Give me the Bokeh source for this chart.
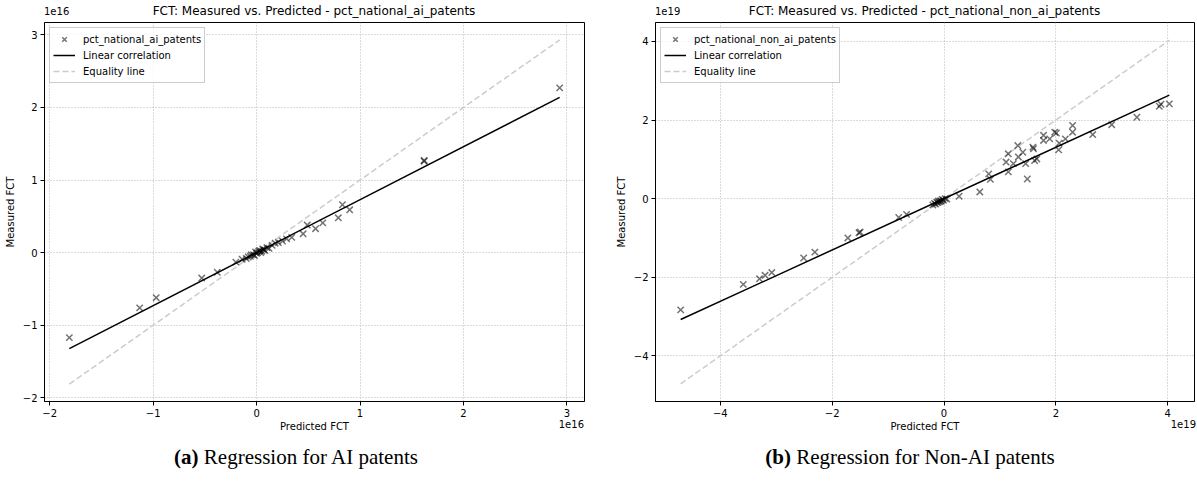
from bokeh.plotting import figure
from bokeh.models import Range1d, FixedTicker, Legend, LegendItem, Div
from bokeh.layouts import row, column
from bokeh.embed import file_html
from bokeh.resources import INLINE

# ---------------- data (values in units of 1e16 / 1e19) ----------------
ai_pred = [-1.81, -1.13, -0.97, -0.53, -0.38, -0.20, -0.14, -0.10, -0.08, -0.06, -0.05,
           -0.03, -0.02, -0.01, 0.00, 0.01, 0.02, 0.03, 0.04, 0.05, 0.06, 0.07, 0.08,
           0.10, 0.12, 0.15, 0.18, 0.21, 0.25, 0.29, 0.34, 0.45, 0.49, 0.57, 0.64, 0.79,
           0.83, 0.90, 1.62, 1.62, 2.93]
ai_meas = [-1.17, -0.76, -0.62, -0.35, -0.27, -0.13, -0.09, -0.08, -0.06, -0.05, -0.03,
           -0.03, -0.04, 0.01, -0.01, 0.00, 0.02, 0.03, 0.00, 0.02, 0.05, 0.04, 0.03,
           0.07, 0.06, 0.10, 0.13, 0.14, 0.16, 0.19, 0.21, 0.26, 0.38, 0.33, 0.41, 0.48,
           0.66, 0.59, 1.26, 1.27, 2.27]
ai_fit_slope = 0.73
ai_fit_intercept = 0.0

non_pred = [-4.71, -3.59, -3.30, -3.20, -3.08, -2.51, -2.31, -1.72, -1.52, -1.50, -0.81,
            -0.67, -0.20, -0.17, -0.15, -0.13, -0.11, -0.10, -0.08, -0.06, -0.05, -0.03,
            -0.01, 0.02, 0.05, 0.27, 0.64, 0.80, 0.83, 1.11, 1.15, 1.15, 1.24, 1.32, 1.33,
            1.41, 1.46, 1.49, 1.59, 1.60, 1.62, 1.66, 1.78, 1.78, 1.89, 1.98, 2.01, 2.05,
            2.06, 2.17, 2.30, 2.30, 2.66, 3.00, 3.45, 3.85, 3.88, 4.03]
non_meas = [-2.83, -2.18, -2.04, -1.95, -1.88, -1.51, -1.36, -1.00, -0.87, -0.85, -0.48,
            -0.40, -0.16, -0.12, -0.14, -0.09, -0.10, -0.06, -0.08, -0.05, -0.07, -0.02,
            -0.04, 0.00, -0.01, 0.06, 0.17, 0.63, 0.49, 0.93, 1.14, 0.68, 0.89, 1.35, 1.06,
            1.18, 0.89, 0.50, 1.31, 1.27, 0.97, 1.01, 1.61, 1.48, 1.52, 1.69, 1.67, 1.24,
            1.41, 1.52, 1.86, 1.69, 1.63, 1.88, 2.07, 2.35, 2.40, 2.41]
non_fit_slope = 0.653
non_fit_intercept = 0.0

ai_ticks = [-2, -1, 0, 1, 2, 3]
non_ticks = [-4, -2, 0, 2, 4]
ai_range = (-2.05, 3.17)
non_range = (-5.16, 4.48)

ai_title = "FCT: Measured vs. Predicted - pct_national_ai_patents"
non_title = "FCT: Measured vs. Predicted - pct_national_non_ai_patents"
ai_caption = ("(a)", "Regression for AI patents")
non_caption = ("(b)", "Regression for Non-AI patents")

FONT = "DejaVu Sans"
FRAME_H = 379
TOP_B = 2
BOT_B = 36
H = TOP_B + FRAME_H + BOT_B
TOP_DIV_H = 20
BOT_DIV_H = 40


def label_map(ticks):
    return {t: (("\u2212" + str(abs(t))) if t < 0 else str(t)) for t in ticks}


def make_panel(pred, meas, slope, intercept, series_name, ticks, rng, width, bl, br):
    p = figure(width=width, height=H, x_range=Range1d(*rng), y_range=Range1d(*rng),
               output_backend="svg", toolbar_location=None,
               min_border_left=bl, min_border_right=br, min_border_top=TOP_B,
               min_border_bottom=BOT_B)
    p.background_fill_color = "white"
    p.outline_line_color = "black"
    p.outline_line_width = 1
    p.outline_line_alpha = 1

    for ax in (p.xaxis[0], p.yaxis[0]):
        ax.ticker = FixedTicker(ticks=ticks)
        ax.major_label_overrides = label_map(ticks)
        ax.axis_line_color = "black"
        ax.major_tick_line_color = "black"
        ax.major_tick_out = 4
        ax.major_tick_in = 0
        ax.minor_tick_out = 0
        ax.minor_tick_in = 0
        ax.major_label_text_font = FONT
        ax.major_label_text_font_size = "10px"
        ax.major_label_text_color = "black"
        ax.axis_label_text_font = FONT
        ax.axis_label_text_font_size = "10px"
        ax.axis_label_text_font_style = "normal"
        ax.axis_label_text_color = "black"
        ax.major_label_standoff = 3
        ax.axis_label_standoff = 1
    p.xaxis.axis_label = "Predicted FCT"
    p.yaxis.axis_label = "Measured FCT"
    p.yaxis.axis_label_standoff = 4

    p.grid.grid_line_color = "#b0b0b0"
    p.grid.grid_line_dash = "1 2"
    p.grid.grid_line_width = 1
    p.grid.grid_line_alpha = 0.9

    lo = min(min(pred), min(meas))
    hi = max(max(pred), max(meas))
    eq = p.line([lo, hi], [lo, hi], line_color="#cccccc", line_width=1.5, line_dash="6 3")
    xs = [min(pred), max(pred)]
    fit = p.line(xs, [slope * x + intercept for x in xs], line_color="black", line_width=1.5)
    sc = p.scatter(pred, meas, marker="x", size=9, line_color="black", line_alpha=0.55,
                   line_width=1.5)

    legend = Legend(items=[LegendItem(label=series_name, renderers=[sc]),
                           LegendItem(label="Linear correlation", renderers=[fit]),
                           LegendItem(label="Equality line", renderers=[eq])],
                    location="top_left")
    legend.margin = 5
    legend.padding = 3
    legend.spacing = 0
    legend.label_height = 16
    legend.glyph_height = 16
    legend.glyph_width = 22
    legend.label_standoff = 8
    legend.label_text_font = FONT
    legend.label_text_font_size = "10px"
    legend.label_text_color = "black"
    legend.border_line_color = "#cccccc"
    legend.border_line_alpha = 1
    legend.background_fill_alpha = 0.8
    p.add_layout(legend)
    return p


def top_div(width, frame_left, frame_w, title, exp_text):
    cx = frame_left + frame_w / 2
    html = (
        f'<div style="position:relative;width:{width}px;height:{TOP_DIV_H}px;">'
        f'<span style="position:absolute;left:{frame_left}px;top:6px;'
        f'font-family:\'DejaVu Sans\';font-size:10px;line-height:12px;color:black;">{exp_text}</span>'
        f'<span style="position:absolute;left:{cx - 250}px;width:500px;top:4px;text-align:center;'
        f'font-family:\'DejaVu Sans\';font-size:12px;line-height:14px;color:black;white-space:nowrap;">{title}</span>'
        f'</div>')
    return Div(text=html, width=width, height=TOP_DIV_H, margin=(0, 0, 0, 0),
               styles={"overflow": "visible"})


def bottom_div(width, right_gap, cap_center, caption, exp_text):
    bold, rest = caption
    html = (
        f'<div style="position:relative;width:{width}px;height:{BOT_DIV_H}px;">'
        f'<span style="position:absolute;right:{right_gap}px;top:-18px;'
        f'font-family:\'DejaVu Sans\';font-size:10px;line-height:12px;color:black;">{exp_text}</span>'
        f'<span style="position:absolute;left:{cap_center - 250}px;width:500px;top:8px;text-align:center;'
        f'font-family:\'Liberation Serif\',serif;font-size:21px;line-height:24px;color:black;white-space:nowrap;">'
        f'<b>{bold}</b> {rest}</span>'
        f'</div>')
    return Div(text=html, width=width, height=BOT_DIV_H, margin=(0, 0, 0, 0),
               styles={"overflow": "visible"})


W1, W2 = 612, 585
BL1, BR1 = 44, 28
BL2, BR2 = 43, 3

p1 = make_panel(ai_pred, ai_meas, ai_fit_slope, ai_fit_intercept, "pct_national_ai_patents",
                ai_ticks, ai_range, W1, BL1, BR1)
p2 = make_panel(non_pred, non_meas, non_fit_slope, non_fit_intercept,
                "pct_national_non_ai_patents", non_ticks, non_range, W2, BL2, BR2)

t1 = top_div(W1, BL1, W1 - BL1 - BR1, ai_title, "1e16")
t2 = top_div(W2, BL2, W2 - BL2 - BR2, non_title, "1e19")
b1 = bottom_div(W1, BR1, 296, ai_caption, "1e16")
b2 = bottom_div(W2, 1, 298, non_caption, "1e19")

layout = column(row(t1, t2), row(p1, p2), row(b1, b2))
open("out.html", "w").write(file_html(layout, INLINE))
